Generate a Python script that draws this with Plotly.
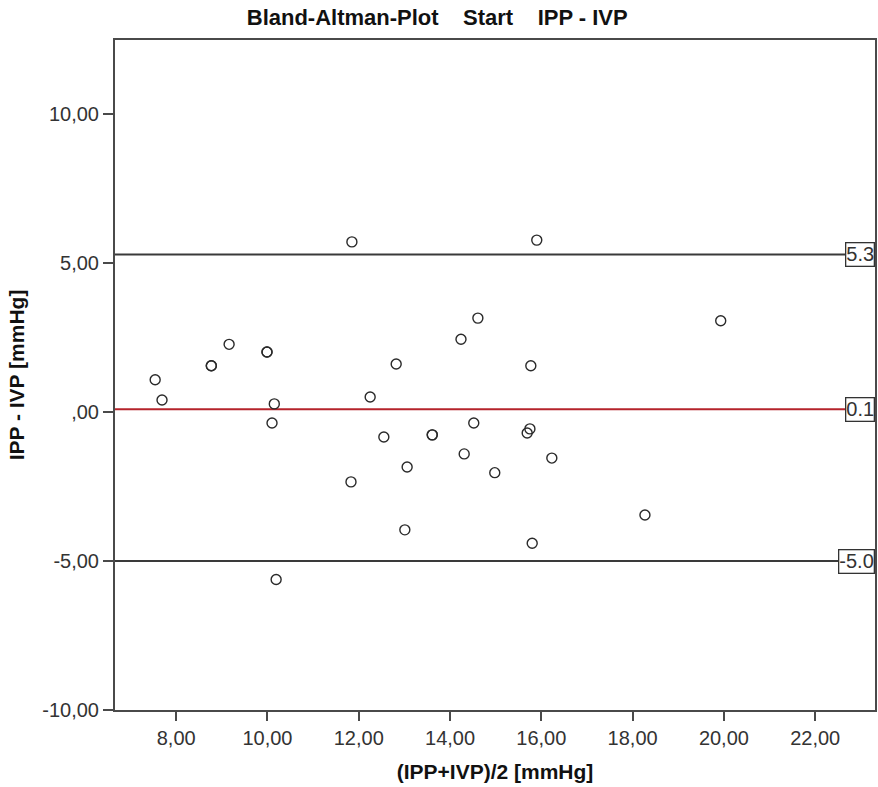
import plotly.graph_objects as go

# Data: mean of IPP and IVP (x) and difference IPP - IVP (y)
mean_vals = [7.54, 7.69, 8.77, 8.77, 9.16, 9.99, 9.99, 10.15, 10.10, 10.19,
             11.85, 11.83, 12.25, 12.55, 12.82, 13.01, 13.06, 13.61, 13.61,
             14.24, 14.31, 14.61, 14.52, 14.98, 15.69, 15.75, 15.77, 15.80,
             15.90, 16.23, 18.27, 19.93]
diff_vals = [1.09, 0.41, 1.56, 1.56, 2.28, 2.02, 2.02, 0.28, -0.36, -5.62,
             5.72, -2.34, 0.51, -0.83, 1.62, -3.95, -1.84, -0.76, -0.76,
             2.45, -1.40, 3.16, -0.36, -2.03, -0.70, -0.56, 1.56, -4.40,
             5.78, -1.54, -3.45, 3.07]

mean_diff = 0.1
upper_loa = 5.3
lower_loa = -5.0
line_labels = ["5.3", "0.1", "-5.0"]

x_tickvals = [8, 10, 12, 14, 16, 18, 20, 22]
x_ticktext = ["8,00", "10,00", "12,00", "14,00", "16,00", "18,00", "20,00", "22,00"]
y_tickvals = [10, 5, 0, -5, -10]
y_ticktext = ["10,00", "5,00", ",00", "-5,00", "-10,00"]

x_range = [6.66, 23.31]
y_range = [-10, 12.5]

axis_color = "#4a4a4a"
font_family = "Liberation Sans, Arial, sans-serif"
bold_family = "Liberation Sans, Arial, sans-serif"

fig = go.Figure()

fig.add_trace(go.Scatter(
    x=mean_vals, y=diff_vals, mode="markers",
    marker=dict(symbol="circle-open", size=10, color="#2a2a2a",
                line=dict(width=1.4, color="#2a2a2a")),
    showlegend=False, hoverinfo="x+y",
))

for val, col in [(upper_loa, "#3a3a3a"), (mean_diff, "#b5232b"), (lower_loa, "#3a3a3a")]:
    fig.add_shape(type="line", xref="paper", yref="y", x0=0, x1=1, y0=val, y1=val,
                  line=dict(color=col, width=2), layer="below")

for val, txt in zip([upper_loa, mean_diff, lower_loa], line_labels):
    fig.add_annotation(xref="paper", yref="y", x=1, y=val, text=txt,
                       xanchor="right", yanchor="middle", showarrow=False,
                       font=dict(family=font_family, size=20, color="#333333"),
                       bordercolor="#333333", borderwidth=1.3, borderpad=0,
                       bgcolor="white")

sp = "\u00a0" * 4
fig.update_layout(
    width=878, height=787,
    margin=dict(l=115, r=1, t=40, b=77),
    paper_bgcolor="white", plot_bgcolor="white",
    title=dict(text="Bland-Altman-Plot" + sp + "Start" + sp + "IPP - IVP",
               x=0.498, xanchor="center", y=0.978, yanchor="middle",
               font=dict(family=bold_family, size=22,
                         color="#111111", weight="bold")),
    font=dict(family=font_family, color="#333333"),
)

fig.update_xaxes(
    range=x_range, tickvals=x_tickvals, ticktext=x_ticktext,
    showgrid=False, zeroline=False, showline=True, mirror=True,
    linecolor=axis_color, linewidth=2, ticks="outside", ticklen=9,
    tickwidth=2, tickcolor=axis_color,
    tickfont=dict(family=font_family, size=20, color="#333333"),
    title=dict(text="(IPP+IVP)/2 [mmHg]", standoff=16,
               font=dict(family=bold_family, size=21,
                         color="#111111", weight="bold")),
)
fig.update_yaxes(
    range=y_range, tickvals=y_tickvals, ticktext=y_ticktext,
    showgrid=False, zeroline=False, showline=True, mirror=True,
    linecolor=axis_color, linewidth=2, ticks="outside", ticklen=10,
    tickwidth=2, tickcolor=axis_color,
    tickfont=dict(family=font_family, size=20, color="#333333"),
    title=dict(text="IPP - IVP [mmHg]", standoff=12,
               font=dict(family=bold_family, size=21,
                         color="#111111", weight="bold")),
)

fig.write_html("out.html", config={"displayModeBar": False},
               post_script="document.body.style.margin='0';document.body.style.overflow='hidden';")
